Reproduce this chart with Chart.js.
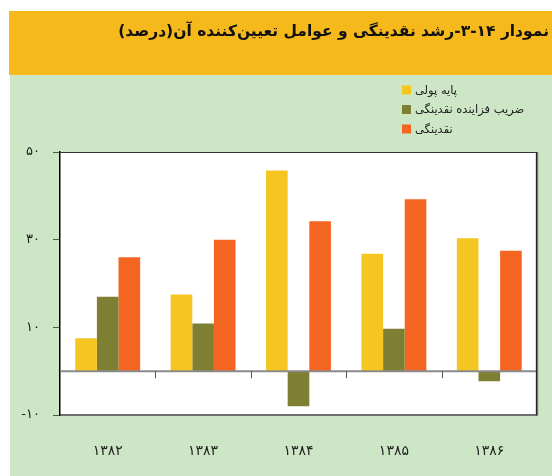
<!DOCTYPE html>
<html>
<head>
<meta charset="utf-8">
<script src="https://cdn.jsdelivr.net/npm/chart.js@4.4.1/dist/chart.umd.min.js"></script>
<style>
html,body{margin:0;padding:0;background:#fff;}
#c{display:block;}
</style>
</head>
<body>
<canvas id="c" width="552" height="476"></canvas>
<script>
const titleText = 'نمودار ۱۴-۳-رشد نقدینگی و عوامل تعیین‌کننده آن(درصد)';
const categories = ['۱۳۸۲', '۱۳۸۳', '۱۳۸۴', '۱۳۸۵', '۱۳۸۶'];
const seriesNames = ['پایه پولی', 'ضریب فزاینده نقدینگی', 'نقدینگی'];
const baseMoney = [7.5, 17.5, 45.8, 26.8, 30.3];
const multiplier = [17.0, 10.9, -8.0, 9.7, -2.3];
const liquidity = [26.0, 30.0, 34.2, 39.2, 27.5];
const yTicks = [-10, 10, 30, 50];
const colors = ['#f5c621', '#7f7f33', '#f46522'];

const fa = s => String(s).replace(/\d/g, d => '۰۱۲۳۴۵۶۷۸۹'[d]);
const FONT = "'DejaVu Sans', sans-serif";

const decor = {
  id: 'decor',
  beforeDraw(chart) {
    const ctx = chart.ctx, a = chart.chartArea;
    ctx.save();
    ctx.fillStyle = '#ffffff';
    ctx.fillRect(0, 0, chart.width, chart.height);
    ctx.fillStyle = '#cde6c5';
    ctx.fillRect(10, 75, chart.width - 10, chart.height - 75);
    ctx.fillStyle = '#f6b91c';
    ctx.fillRect(9, 11, chart.width - 9, 64);
    ctx.fillStyle = '#ffffff';
    ctx.fillRect(a.left, a.top, a.right - a.left, a.bottom - a.top);
    // title
    ctx.fillStyle = '#111';
    ctx.font = "bold 15.5px " + FONT;
    ctx.direction = 'rtl';
    ctx.textAlign = 'right';
    ctx.textBaseline = 'middle';
    ctx.fillText(titleText, 549, 32);
    ctx.restore();
  },
  afterDatasetsDraw(chart) {
    const ctx = chart.ctx, a = chart.chartArea;
    const y = chart.scales.y;
    ctx.save();
    const y0 = y.getPixelForValue(0);
    ctx.strokeStyle = '#8a8a8a';
    ctx.lineWidth = 2;
    ctx.beginPath();
    ctx.moveTo(a.left, y0);
    ctx.lineTo(a.right, y0);
    ctx.stroke();
    const n = categories.length;
    const w = (a.right - a.left) / n;
    ctx.strokeStyle = '#555';
    ctx.lineWidth = 1;
    for (let i = 1; i <= n; i++) {
      const px = Math.round(a.left + i * w) + 0.5;
      ctx.beginPath();
      ctx.moveTo(px, y0);
      ctx.lineTo(px, y0 + 7);
      ctx.stroke();
    }
    // top and right borders
    ctx.strokeStyle = '#333';
    ctx.lineWidth = 1;
    ctx.beginPath();
    ctx.moveTo(a.left, a.top + 0.5);
    ctx.lineTo(a.right, a.top + 0.5);
    ctx.stroke();
    ctx.strokeStyle = '#777';
    ctx.lineWidth = 2.5;
    ctx.beginPath();
    ctx.moveTo(a.right, a.top);
    ctx.lineTo(a.right, a.bottom);
    ctx.stroke();
    ctx.strokeStyle = '#222';
    ctx.lineWidth = 1;
    ctx.beginPath();
    ctx.moveTo(a.right - 0.5, a.top);
    ctx.lineTo(a.right - 0.5, a.bottom);
    ctx.stroke();
    // legend
    ctx.font = "11.5px " + FONT;
    ctx.textBaseline = 'middle';
    ctx.textAlign = 'left';
    ctx.direction = 'rtl';
    const rows = [90, 109.5, 129];
    chart.data.datasets.forEach((ds, i) => {
      ctx.fillStyle = ds.backgroundColor;
      ctx.fillRect(402, rows[i] - 4.5, 9, 9);
      ctx.fillStyle = '#222';
      ctx.fillText(ds.label, 415, rows[i] + 1);
    });
    ctx.restore();
  }
};

new Chart(document.getElementById('c'), {
  type: 'bar',
  data: {
    labels: categories,
    datasets: [
      { label: seriesNames[0], data: baseMoney, backgroundColor: colors[0] },
      { label: seriesNames[1], data: multiplier, backgroundColor: colors[1] },
      { label: seriesNames[2], data: liquidity, backgroundColor: colors[2] }
    ]
  },
  options: {
    responsive: false,
    animation: false,
    devicePixelRatio: 1,
    layout: { padding: { top: 152, right: 15, left: 0, bottom: 0 } },
    datasets: { bar: { categoryPercentage: 0.68, barPercentage: 1.0, borderWidth: 0 } },
    plugins: { legend: { display: false }, title: { display: false }, tooltip: { enabled: false } },
    scales: {
      x: {
        grid: { display: false, drawTicks: false },
        border: { display: true, color: '#6f6f6f', width: 2 },
        ticks: { padding: 28, color: '#222', font: { family: FONT, size: 14 } },
        afterFit(s) { s.height = 61; }
      },
      y: {
        min: -10, max: 50,
        afterBuildTicks(s) { s.ticks = yTicks.map(v => ({ value: v })); },
        grid: { drawOnChartArea: false, drawTicks: true, tickLength: 7, color: '#555', lineWidth: 1 },
        border: { display: true, color: '#000', width: 1.5 },
        ticks: { padding: 13, color: '#222', font: { family: FONT, size: 13 }, callback: v => fa(v) },
        afterFit(s) { s.width = 60; }
      }
    }
  },
  plugins: [decor]
});
</script>
</body>
</html>
